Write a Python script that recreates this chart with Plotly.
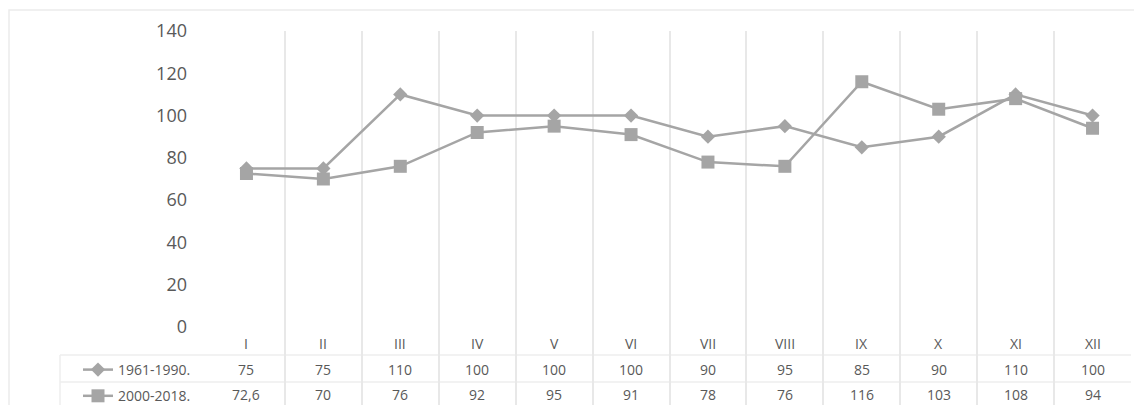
import plotly.graph_objects as go

months = ["I", "II", "III", "IV", "V", "VI", "VII", "VIII", "IX", "X", "XI", "XII"]
series1_name = "1961-1990."
series2_name = "2000-2018."
series1 = [75, 75, 110, 100, 100, 100, 90, 95, 85, 90, 110, 100]
series2 = [72.6, 70, 76, 92, 95, 91, 78, 76, 116, 103, 108, 94]
series1_labels = ["75", "75", "110", "100", "100", "100", "90", "95", "85", "90", "110", "100"]
series2_labels = ["72,6", "70", "76", "92", "95", "91", "78", "76", "116", "103", "108", "94"]
y_ticks = [0, 20, 40, 60, 80, 100, 120, 140]

# The page body has an 8px margin, so the figure is laid out in page pixels minus 8.
OFF = 8
PAGE_W, PAGE_H = 1142, 405
W, H = PAGE_W - OFF, PAGE_H - OFF
PLOT_LEFT, PLOT_RIGHT, PLOT_TOP, PLOT_BOTTOM = 208, 1131, 31, 405
L = PLOT_LEFT - OFF
R = W - (PLOT_RIGHT - OFF)
T = PLOT_TOP - OFF
B = H - (PLOT_BOTTOM - OFF)
FONT = "Open Sans"
GRAY = "#a5a5a5"
TXT = "#595959"

x = list(range(len(months)))

fig = go.Figure()
fig.add_trace(go.Scatter(
    x=x, y=series1, name=series1_name, mode="lines+markers",
    line=dict(color=GRAY, width=2.5),
    marker=dict(symbol="diamond", size=11, color=GRAY),
    legendgroup="a",
))
fig.add_trace(go.Scatter(
    x=x, y=series2, name=series2_name, mode="lines+markers",
    line=dict(color=GRAY, width=2.5),
    marker=dict(symbol="square", size=13, color=GRAY),
    legendgroup="b",
))

def py(p):
    # page pixel y -> paper coordinate
    return (PLOT_BOTTOM - p) / (PLOT_BOTTOM - PLOT_TOP)

def px(p):
    # page pixel x -> paper coordinate
    return (p - PLOT_LEFT) / (PLOT_RIGHT - PLOT_LEFT)

annotations = []
rows = [(months, py(343)), (series1_labels, py(369)), (series2_labels, py(394))]
for labels, yy in rows:
    for i, lab in enumerate(labels):
        annotations.append(dict(
            x=i, y=yy, xref="x", yref="paper", text=lab, showarrow=False,
            font=dict(family=FONT, size=14, color=TXT), xanchor="center", yanchor="middle",
        ))

shapes = [
    dict(type="rect", xref="paper", yref="paper", x0=px(9), x1=px(1160), y0=py(430), y1=py(10),
         line=dict(color="#ebebeb", width=1.5), layer="below"),
    dict(type="line", xref="paper", yref="paper", x0=px(60), x1=1, y0=py(355), y1=py(355),
         line=dict(color="#eeeeee", width=1.5), layer="below"),
    dict(type="line", xref="paper", yref="paper", x0=px(60), x1=1, y0=py(382), y1=py(382),
         line=dict(color="#eeeeee", width=1.5), layer="below"),
    dict(type="line", xref="paper", yref="paper", x0=px(60), x1=px(60), y0=0, y1=py(355),
         line=dict(color="#eeeeee", width=1.5), layer="below"),
]

fig.update_layout(
    width=W, height=H,
    margin=dict(l=L, r=R, t=T, b=B, pad=0, autoexpand=False),
    paper_bgcolor="white", plot_bgcolor="white",
    font=dict(family=FONT, color=TXT),
    xaxis=dict(
        range=[-0.5, len(months) - 0.5],
        tickmode="array", tickvals=[i - 0.5 for i in range(len(months) + 1)],
        showticklabels=False, showgrid=True, gridcolor="#e8e8e8", gridwidth=1.5,
        zeroline=False, showline=False, ticks="",
    ),
    yaxis=dict(
        range=[-36.9, 140],
        tickmode="array", tickvals=y_ticks,
        showgrid=False, zeroline=False, showline=False, ticks="",
        tickfont=dict(family=FONT, size=18, color=TXT),
        ticklabelstandoff=20,
    ),
    showlegend=True,
    legend=dict(
        x=px(78), y=py(354), xanchor="left", yanchor="top",
        font=dict(family=FONT, size=14, color=TXT),
        bgcolor="rgba(0,0,0,0)", traceorder="grouped", tracegroupgap=5,
        itemwidth=30,
    ),
    annotations=annotations,
    shapes=shapes,
)

fig.write_html("out.html")
